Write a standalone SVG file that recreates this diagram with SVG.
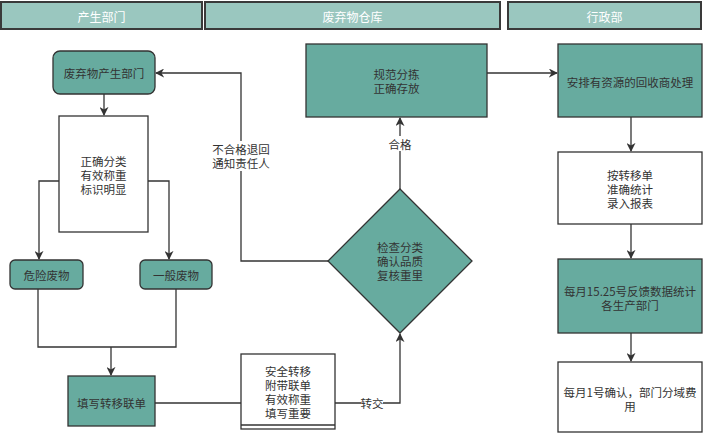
<svg xmlns="http://www.w3.org/2000/svg" width="703" height="434" viewBox="0 0 703 434">
<defs>
<style>
.hdr{fill:#9AC7BF;stroke:#3a3a3a;stroke-width:2}
.ht{fill:#ffffff;font-family:"Noto Sans CJK SC","Noto Sans",sans-serif;font-size:12px;text-anchor:middle;dominant-baseline:central}
.teal{fill:#67AB9F;stroke:#333333;stroke-width:1.3}
.wh{fill:#ffffff;stroke:#333333;stroke-width:1.3}
.t{fill:#333333;font-family:"Noto Sans CJK SC","Noto Sans",sans-serif;font-size:11.5px;text-anchor:middle;dominant-baseline:central}
.c{fill:none;stroke:#333333;stroke-width:1.3}
</style>
<marker id="ah" viewBox="0 0 10 10" refX="9" refY="5" markerWidth="9" markerHeight="9" markerUnits="userSpaceOnUse" orient="auto">
<path d="M0,0 L10,5 L0,10 L3,5 Z" fill="#333333"/>
</marker>
</defs>
<rect width="703" height="434" fill="#ffffff"/>
<g id="lane-headers">
<rect class="hdr" x="1" y="2" width="201" height="27"/>
<text class="ht" x="101.5" y="16">产生部门</text>
<rect class="hdr" x="205" y="2" width="295" height="27"/>
<text class="ht" x="352.5" y="16">废弃物仓库</text>
<rect class="hdr" x="508" y="2" width="193" height="27"/>
<text class="ht" x="604.5" y="16">行政部</text>
</g>
<g id="connectors">
<path class="c" d="M104,94 L104,115" marker-end="url(#ah)"/>
<path class="c" d="M59,181 L39,181 L39,259" marker-end="url(#ah)"/>
<path class="c" d="M148,181 L169,181 L169,259" marker-end="url(#ah)"/>
<path class="c" d="M38,289 L38,347 L176,347 L176,289"/>
<path class="c" d="M111,347 L111,375" marker-end="url(#ah)"/>
<path class="c" d="M155,403 L241,403"/>
<path class="c" d="M335,403 L400,403 L400,334" marker-end="url(#ah)"/>
<path class="c" d="M400,189 L400,118" marker-end="url(#ah)"/>
<path class="c" d="M328,261 L241,261 L241,73 L156,73" marker-end="url(#ah)"/>
<path class="c" d="M487,73 L557,73" marker-end="url(#ah)"/>
<path class="c" d="M631,117 L631,151" marker-end="url(#ah)"/>
<path class="c" d="M631,224 L631,258" marker-end="url(#ah)"/>
<path class="c" d="M631,333 L631,361" marker-end="url(#ah)"/>
<rect x="361" y="396" width="22" height="14" fill="#ffffff"/>
<text class="t" x="372" y="403">转交</text>
<rect x="388" y="136" width="24" height="15" fill="#ffffff"/>
<text class="t" x="400" y="144">合格</text>
<rect x="211" y="141" width="60" height="30" fill="#ffffff"/>
<text class="t" x="241" y="149"><tspan x="241" y="149">不合格退回</tspan><tspan x="241" y="163">通知责任人</tspan></text>
</g>
<g id="n-source">
<rect class="teal" x="53" y="51" width="102" height="43" rx="7"/>
<text class="t" x="104" y="73">废弃物产生部门</text>
</g>
<g id="n-classify">
<rect class="wh" x="59" y="116" width="89" height="116"/>
<text class="t"><tspan x="103.5" y="161">正确分类</tspan><tspan x="103.5" y="175">有效称重</tspan><tspan x="103.5" y="189">标识明显</tspan></text>
</g>
<g id="n-hazard">
<rect class="teal" x="10" y="260" width="73" height="29" rx="5"/>
<text class="t" x="46.5" y="275">危险废物</text>
</g>
<g id="n-general">
<rect class="teal" x="140" y="260" width="72" height="29" rx="5"/>
<text class="t" x="176" y="275">一般废物</text>
</g>
<g id="n-form">
<rect class="teal" x="68" y="376" width="87" height="50"/>
<text class="t" x="111.5" y="403">填写转移联单</text>
</g>
<g id="n-transfer">
<rect class="wh" x="241" y="354" width="94" height="75"/>
<line class="c" x1="241" y1="425" x2="335" y2="425"/>
<text class="t"><tspan x="288" y="371">安全转移</tspan><tspan x="288" y="385">附带联单</tspan><tspan x="288" y="399">有效称重</tspan><tspan x="288" y="413">填写重要</tspan></text>
</g>
<g id="n-check">
<polygon class="teal" points="400,189 472,261 400,333 328,261"/>
<text class="t"><tspan x="400" y="247">检查分类</tspan><tspan x="400" y="261">确认品质</tspan><tspan x="400" y="275">复核重里</tspan></text>
</g>
<g id="n-store">
<rect class="teal" x="306" y="44" width="181" height="73"/>
<text class="t"><tspan x="396.5" y="74">规范分拣</tspan><tspan x="396.5" y="88">正确存放</tspan></text>
</g>
<g id="n-recycle">
<rect class="teal" x="558" y="44" width="144" height="73"/>
<text class="t" x="630" y="82">安排有资源的回收商处理</text>
</g>
<g id="n-stats">
<rect class="wh" x="558" y="152" width="144" height="72"/>
<text class="t"><tspan x="630" y="175">按转移单</tspan><tspan x="630" y="189">准确统计</tspan><tspan x="630" y="203">录入报表</tspan></text>
</g>
<g id="n-feedback">
<rect class="teal" x="558" y="259" width="144" height="74"/>
<text class="t"><tspan x="630" y="291">每月15.25号反馈数据统计</tspan><tspan x="630" y="305">各生产部门</tspan></text>
</g>
<g id="n-confirm">
<rect class="wh" x="558" y="362" width="144" height="70"/>
<text class="t"><tspan x="630" y="392">每月1号确认，部门分域费</tspan><tspan x="630" y="406">用</tspan></text>
</g>
</svg>
